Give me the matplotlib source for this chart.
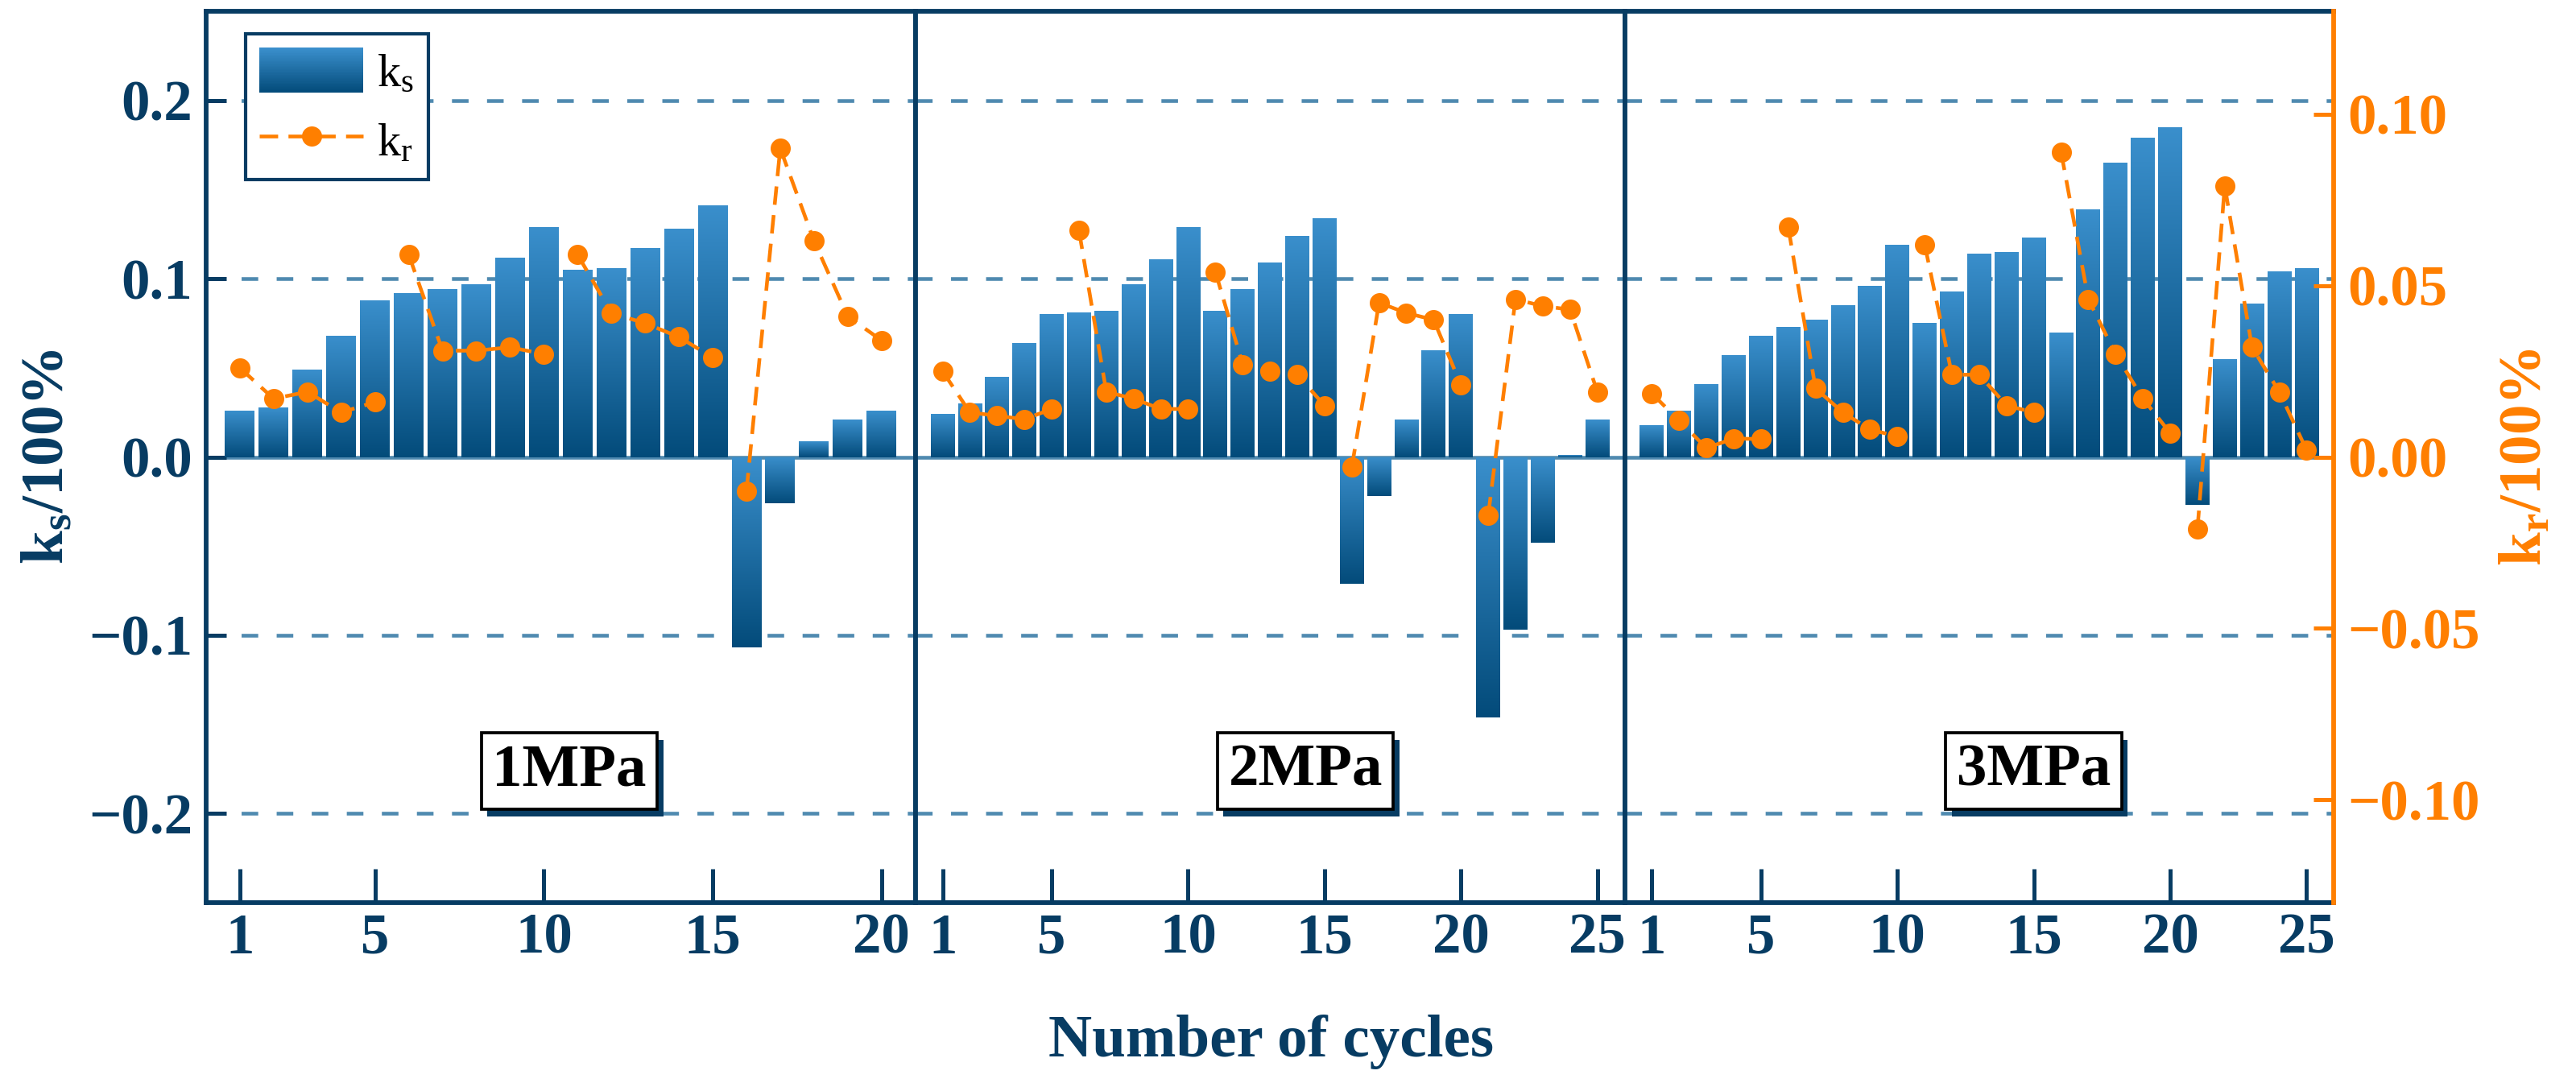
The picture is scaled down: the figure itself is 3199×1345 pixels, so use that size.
import numpy as np
import matplotlib
matplotlib.use("Agg")
import matplotlib.pyplot as plt
from matplotlib.patches import Rectangle
from matplotlib.lines import Line2D
from matplotlib.legend_handler import HandlerBase
from matplotlib.colors import LinearSegmentedColormap
import matplotlib.patheffects as pe

plt.rcParams['font.family'] = ['Liberation Serif', 'DejaVu Serif']
plt.rcParams['mathtext.fontset'] = 'custom'
plt.rcParams['mathtext.rm'] = 'Liberation Serif'
plt.rcParams['mathtext.it'] = 'Liberation Serif:italic'
plt.rcParams['mathtext.bf'] = 'Liberation Serif:bold'

# ---------------- data ----------------
pressures = ['1MPa', '2MPa', '3MPa']

cycles_1MPa = list(range(1, 21))
cycles_2MPa = list(range(1, 26))
cycles_3MPa = list(range(1, 26))

ks_1MPa = [0.026, 0.028, 0.049, 0.068, 0.088, 0.092, 0.094, 0.097, 0.112, 0.129,
           0.105, 0.106, 0.117, 0.128, 0.141, -0.107, -0.026, 0.009, 0.021, 0.026]
kr_1MPa = [0.026, 0.017, 0.019, 0.013, 0.016, 0.059, 0.031, 0.031, 0.032, 0.030,
           0.059, 0.042, 0.039, 0.035, 0.029, -0.010, 0.090, 0.063, 0.041, 0.034]

ks_2MPa = [0.024, 0.030, 0.045, 0.064, 0.080, 0.081, 0.082, 0.097, 0.111, 0.129,
           0.082, 0.094, 0.109, 0.124, 0.134, -0.071, -0.022, 0.021, 0.060, 0.080,
           -0.146, -0.097, -0.048, 0.001, 0.021]
kr_2MPa = [0.025, 0.013, 0.012, 0.011, 0.014, 0.066, 0.019, 0.017, 0.014, 0.014,
           0.054, 0.027, 0.025, 0.024, 0.015, -0.003, 0.045, 0.042, 0.040, 0.021,
           -0.017, 0.046, 0.044, 0.043, 0.019]

ks_3MPa = [0.018, 0.026, 0.041, 0.057, 0.068, 0.073, 0.077, 0.085, 0.096, 0.119,
           0.075, 0.093, 0.114, 0.115, 0.123, 0.070, 0.139, 0.165, 0.179, 0.185,
           -0.027, 0.055, 0.086, 0.104, 0.106]
kr_3MPa = [0.0185, 0.0106, 0.0026, 0.0054, 0.0052, 0.067, 0.020, 0.013, 0.008, 0.006,
           0.062, 0.024, 0.024, 0.015, 0.013, 0.089, 0.046, 0.030, 0.017, 0.007,
           -0.021, 0.079, 0.032, 0.019, 0.002]

xticks_1MPa = [1, 5, 10, 15, 20]
xticks_2MPa = [1, 5, 10, 15, 20, 25]
xticks_3MPa = [1, 5, 10, 15, 20, 25]
ks_ticks = [-0.2, -0.1, 0.0, 0.1, 0.2]
kr_ticks = [-0.10, -0.05, 0.00, 0.05, 0.10]
segment_len = 5
label_pos = [(10.75, -0.176), (14.3, -0.176), (15.0, -0.176)]

# ---------------- style ----------------
NAVY = '#073c63'
ORANGE = '#ff7f00'
GRID = '#4f8ab0'
LIGHT = '#3a8fcc'
DARK = '#034b7a'
cmap = LinearSegmentedColormap.from_list('bar', [DARK, LIGHT])

fig = plt.figure(figsize=(3199 / 300, 1345 / 300), dpi=300)
left, right, bottom, top = 0.080, 0.906, 0.1665, 0.9896
pw = (right - left) / 3

panels = [
    (cycles_1MPa, ks_1MPa, kr_1MPa, xticks_1MPa, (0, 21)),
    (cycles_2MPa, ks_2MPa, kr_2MPa, xticks_2MPa, (0, 26)),
    (cycles_3MPa, ks_3MPa, kr_3MPa, xticks_3MPa, (0, 26)),
]

grad = np.linspace(1, 0, 256).reshape(-1, 1)
axes = []
for i, (cyc, ks, kr, xt, xl) in enumerate(panels):
    ax = fig.add_axes([left + i * pw, bottom, pw, top - bottom])
    axes.append(ax)
    # grid lines
    for yv in ks_ticks:
        if yv == 0:
            ax.axhline(0, color=GRID, lw=1.1, zorder=1)
        else:
            ax.axhline(yv, color=GRID, lw=1.1, ls=(0, (4.5, 5)), zorder=1)
    bars = ax.bar(cyc, ks, width=0.88, facecolor='none', edgecolor='none', zorder=2)
    for p in bars.patches:
        x0 = p.get_x()
        w = p.get_width()
        y0 = p.get_y()
        h = p.get_height()
        ylo, yhi = min(y0, y0 + h), max(y0, y0 + h)
        im = ax.imshow(grad, extent=(x0, x0 + w, ylo, yhi), aspect='auto', cmap=cmap,
                       vmin=0, vmax=1, interpolation='bilinear', zorder=2)
        im.set_clip_path(p)
    ax.set_xlim(*xl)
    ax.set_ylim(-0.25, 0.25)
    ax.set_xticks(xt)
    ax.tick_params(axis='x', direction='in', length=10, width=1.2, color=NAVY,
                   labelsize=17, labelcolor=NAVY, pad=3)
    for lab in ax.get_xticklabels():
        lab.set_fontweight('bold')
    if i == 0:
        ax.set_yticks(ks_ticks)
        ax.set_yticklabels(['\u22120.2', '\u22120.1', '0.0', '0.1', '0.2'])
        ax.tick_params(axis='y', direction='in', length=6, width=1.2, color=NAVY,
                       labelsize=17, labelcolor=NAVY, pad=4)
        for lab in ax.get_yticklabels():
            lab.set_fontweight('bold')
    else:
        ax.set_yticks([])
    for s in ax.spines.values():
        s.set_color(NAVY)
        s.set_linewidth(1.4)

    ax2 = ax.twinx()
    ax2.set_ylim(-0.13, 0.13)
    for s0 in range(0, len(cyc), segment_len):
        ax2.plot(cyc[s0:s0 + segment_len], kr[s0:s0 + segment_len], color=ORANGE,
                 lw=1.1, ls=(0, (5, 2.8)), marker='o', ms=5, zorder=3)
    for s in ax2.spines.values():
        s.set_visible(False)
    if i == 2:
        ax.spines['right'].set_visible(False)
        ax2.spines['right'].set_visible(True)
        ax2.spines['right'].set_color(ORANGE)
        ax2.spines['right'].set_linewidth(1.4)
        ax2.set_yticks(kr_ticks)
        ax2.set_yticklabels(['\u22120.10', '\u22120.05', '0.00', '0.05', '0.10'])
        ax2.tick_params(axis='y', direction='in', length=6, width=1.2, color=ORANGE,
                        labelsize=17, labelcolor=ORANGE, pad=4)
        for lab in ax2.get_yticklabels():
            lab.set_fontweight('bold')
    else:
        ax2.set_yticks([])
    ax2.set_xlim(*xl)

    # pressure label box with shadow
    t = ax2.text(label_pos[i][0], label_pos[i][1] * 0.13 / 0.25, pressures[i],
                 ha='center', va='center', fontsize=18, fontweight='bold', color='black',
                 bbox=dict(boxstyle='square,pad=0.18', fc='white', ec='black', lw=0.9),
                 zorder=5)
    t.get_bbox_patch().set_path_effects([
        pe.SimplePatchShadow(offset=(1.8, -2.2), shadow_rgbFace=NAVY, alpha=1.0),
        pe.Normal()])


class GradientHandler(HandlerBase):
    def create_artists(self, legend, orig_handle, xdescent, ydescent, width, height,
                       fontsize, trans):
        arts = []
        n = 40
        for k in range(n):
            c = cmap(k / (n - 1))
            r = Rectangle((-xdescent, -ydescent + height * k / n), width, height / n * 1.05,
                          facecolor=c, edgecolor='none', transform=trans)
            arts.append(r)
        return arts


bar_handle = Rectangle((0, 0), 1, 1)
line_handle = Line2D([], [], color=ORANGE, lw=1.1, ls=(0, (5, 2.8)), marker='o', ms=5)
leg = axes[0].legend([bar_handle, line_handle],
                     ['k$_{\\mathrm{s}}$', 'k$_{\\mathrm{r}}$'],
                     handler_map={Rectangle: GradientHandler()},
                     loc='upper left', bbox_to_anchor=(0.0556, 0.975), borderaxespad=0,
                     fontsize=14, handlelength=2.2, handleheight=1.1, handletextpad=0.3,
                     borderpad=0.3, labelspacing=0.45, fancybox=False, framealpha=1,
                     edgecolor=NAVY, numpoints=1)
leg.get_frame().set_linewidth(1.0)
leg.set_zorder(10)

# axis labels
fig.text(0.019, 0.578, 'k$_{\\mathbf{s}}$/100%', rotation=90, ha='center', va='center',
         fontsize=18, fontweight='bold', color=NAVY)
fig.text(0.981, 0.578, 'k$_{\\mathbf{r}}$/100%', rotation=90, ha='center', va='center',
         fontsize=18, fontweight='bold', color=ORANGE)
fig.text(0.4933, 1 - 1312 / 1345, 'Number of cycles', ha='center', va='baseline',
         fontsize=18, fontweight='bold', color=NAVY)

fig.savefig('out.png', dpi=300)
